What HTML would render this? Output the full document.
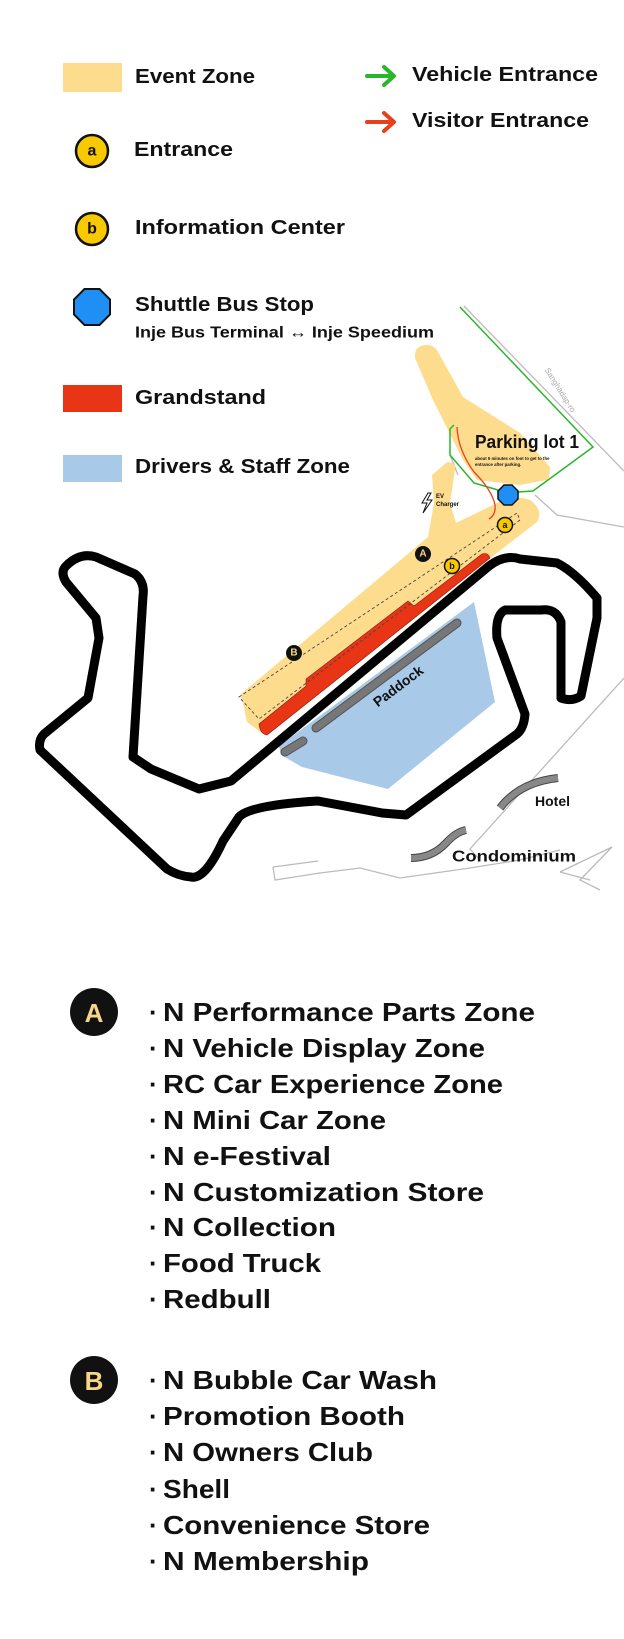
<!DOCTYPE html>
<html><head><meta charset="utf-8"><style>
html,body{margin:0;padding:0;background:#fff;}
svg{display:block;}
text{font-family:"Liberation Sans",sans-serif;font-weight:bold;fill:#111;}
</style></head><body>
<svg width="624" height="1639" viewBox="0 0 624 1639" xmlns="http://www.w3.org/2000/svg">
<!-- Legend -->
<rect x="63" y="63" width="59" height="29" fill="#fddc8e"/>
<text x="135" y="77" font-size="20" dominant-baseline="central" textLength="120" lengthAdjust="spacingAndGlyphs">Event Zone</text>
<g stroke="#2bb52b" stroke-width="4" fill="none" stroke-linecap="round" stroke-linejoin="round"><path d="M367 76H393M384 67L394 76L384 85"/></g>
<text x="412" y="75" font-size="20" dominant-baseline="central" textLength="186" lengthAdjust="spacingAndGlyphs">Vehicle Entrance</text>
<g stroke="#e8401c" stroke-width="4" fill="none" stroke-linecap="round" stroke-linejoin="round"><path d="M367 122H393M384 113L394 122L384 131"/></g>
<text x="412" y="121" font-size="20" dominant-baseline="central" textLength="177" lengthAdjust="spacingAndGlyphs">Visitor Entrance</text>
<circle cx="92" cy="151" r="16" fill="#f8c800" stroke="#111" stroke-width="2.5"/>
<text x="92" y="151" font-size="16" text-anchor="middle" dominant-baseline="central">a</text>
<text x="134" y="150" font-size="20" dominant-baseline="central" textLength="99" lengthAdjust="spacingAndGlyphs">Entrance</text>
<circle cx="92" cy="229" r="16" fill="#f8c800" stroke="#111" stroke-width="2.5"/>
<text x="92" y="229" font-size="16" text-anchor="middle" dominant-baseline="central">b</text>
<text x="135" y="228" font-size="20" dominant-baseline="central" textLength="210" lengthAdjust="spacingAndGlyphs">Information Center</text>
<polygon points="84.5,289 99.5,289 110,299.5 110,314.5 99.5,325 84.5,325 74,314.5 74,299.5" fill="#1f8ff5" stroke="#111" stroke-width="2"/>
<text x="135" y="305" font-size="20" dominant-baseline="central" textLength="179" lengthAdjust="spacingAndGlyphs">Shuttle Bus Stop</text>
<text x="135" y="333" font-size="16" dominant-baseline="central" textLength="299" lengthAdjust="spacingAndGlyphs">Inje Bus Terminal ↔ Inje Speedium</text>
<rect x="63" y="385" width="59" height="27" fill="#e83516"/>
<text x="135" y="398" font-size="20" dominant-baseline="central" textLength="131" lengthAdjust="spacingAndGlyphs">Grandstand</text>
<rect x="63" y="455" width="59" height="27" fill="#a9c9e8"/>
<text x="135" y="467" font-size="20" dominant-baseline="central" textLength="215" lengthAdjust="spacingAndGlyphs">Drivers &amp; Staff Zone</text>

<!-- roads (gray) -->
<g stroke="#bbb" stroke-width="1.3" fill="none">
<path d="M464 306L624 471"/>
<path d="M535 495L557 515L624 527"/>
<path d="M624 678L470 849L480 860"/>
<path d="M450 455L458 475"/>
<path d="M273 867L275 880L320 873L360 868L400 878L470 868L520 860L560 850"/>
<path d="M273 867L318 861"/>
<path d="M560 872L612 847L580 880L600 890M560 872L590 880"/>
</g>

<!-- parking yellow -->
<path d="M415 358Q414 346 425 345Q432 344 437 350L463 397L520 433L550 467Q550 478 547 480L520 485L477 480L463 460L433 400Z" fill="#fddc8e"/>
<!-- event zone band -->
<path d="M241 694L428 537L434 503L432 475L447 462Q456 462 455 470L450 503L456 523L497 503Q515 494 530 500Q544 510 537 522L489 559L263 734L247 722Z" fill="#fddc8e"/>

<!-- paddock -->
<path d="M279 746L474 602L495 702L388 789L302 767L281 755Z" fill="#a9c9e8"/>
<g stroke="#555" stroke-width="9" stroke-linecap="round"><path d="M316 728L457 623"/><path d="M285 752L303 741"/></g>
<g stroke="#777" stroke-width="7" stroke-linecap="round"><path d="M316 728L457 623"/><path d="M285 752L303 741"/></g>
<text x="398" y="686" font-size="14" text-anchor="middle" dominant-baseline="central" transform="rotate(-37 398 686)">Paddock</text>

<!-- grandstand -->
<path d="M259 724L306 686L306 679L408 601L414 606L482 554Q488 552 490 558L267 735Q260 734 259 724Z" fill="#e83516" stroke="#8a1a08" stroke-width="0.6"/>

<!-- dashed outline -->
<path d="M239 697L517 513L520 520L259 719Z" fill="none" stroke="#444" stroke-width="0.9" stroke-dasharray="3,2.5"/>

<!-- track -->
<path d="M66 566Q80 552 96 557L135 574Q145 582 143 596L133 757L151 769L199 789L231 781L489 566Q505 554 520 559L557 563Q575 572 597 598L597 618L581 696Q572 702 561 698L561 622Q556 608 541 610L505 610Q495 615 497 638L525 714Q524 728 517 734L406 815L382 813L318 801Q250 805 239 817L223 841Q205 880 191 877Q178 876 167 869L40 750Q38 740 44 734L88 698L99 638L96 618L66 582Q60 572 66 566Z" fill="none" stroke="#000" stroke-width="9" stroke-linejoin="round"/>

<!-- green vehicle route -->
<path d="M460 307L593 447L533 491L518 492M498 490L474 483L450 455L450 429L454 425" fill="none" stroke="#2bb52b" stroke-width="1.5"/>
<!-- red visitor route -->
<path d="M457 427Q458 450 474 472Q492 490 495 505Q496 515 489 519" fill="none" stroke="#e8401c" stroke-width="1.3"/>

<!-- bus stop -->
<polygon points="504,485 512,485 518,491 518,499 512,505 504,505 498,499 498,491" fill="#1f8ff5" stroke="#111" stroke-width="1.5"/>

<!-- markers -->
<circle cx="505" cy="525" r="7.5" fill="#f8c800" stroke="#111" stroke-width="1.5"/>
<text x="505" y="525" font-size="9" text-anchor="middle" dominant-baseline="central">a</text>
<circle cx="452" cy="566" r="7.5" fill="#f8c800" stroke="#111" stroke-width="1.5"/>
<text x="452" y="566" font-size="9" text-anchor="middle" dominant-baseline="central">b</text>
<circle cx="423" cy="554" r="8" fill="#111"/>
<text x="423" y="554" font-size="10" text-anchor="middle" dominant-baseline="central" style="fill:#f7d68a">A</text>
<circle cx="294" cy="653" r="8" fill="#111"/>
<text x="294" y="653" font-size="10" text-anchor="middle" dominant-baseline="central" style="fill:#f7d68a">B</text>

<!-- EV charger -->
<path d="M428 493L422 503L427 503L423 513L432 500L427 500L431 493Z" fill="none" stroke="#111" stroke-width="1"/>
<text x="436" y="497" font-size="6" dominant-baseline="central">EV</text>
<text x="436" y="505" font-size="6" dominant-baseline="central">Charger</text>

<!-- parking labels -->
<text x="475" y="448" font-size="18" textLength="104" lengthAdjust="spacingAndGlyphs">Parking lot 1</text>
<text x="475" y="460" font-size="4.3">about 5 minutes on foot to get to the</text>
<text x="475" y="466" font-size="4.3">entrance after parking.</text>
<text x="560" y="390" font-size="8" text-anchor="middle" dominant-baseline="central" transform="rotate(58 560 390)" style="fill:#aaa;font-weight:normal">Sanghadap-ro</text>

<!-- hotel / condo -->
<path d="M500 808Q520 782 558 778" fill="none" stroke="#444" stroke-width="8"/>
<path d="M500 808Q520 782 558 778" fill="none" stroke="#888" stroke-width="6"/>
<text x="535" y="801" font-size="14" dominant-baseline="central">Hotel</text>
<path d="M411 858Q432 858 446 843Q456 832 466 830" fill="none" stroke="#444" stroke-width="8"/>
<path d="M411 858Q432 858 446 843Q456 832 466 830" fill="none" stroke="#888" stroke-width="6"/>
<text x="452" y="857" font-size="16" dominant-baseline="central" textLength="124" lengthAdjust="spacingAndGlyphs">Condominium</text>

<!-- Lists -->
<circle cx="94" cy="1012" r="24" fill="#111"/>
<text x="94" y="1013" font-size="26" text-anchor="middle" dominant-baseline="central" style="fill:#f7d68a">A</text>
<g font-size="26">
<text x="149" y="1012" dominant-baseline="central">·</text><text x="163" y="1012" dominant-baseline="central" textLength="372" lengthAdjust="spacingAndGlyphs">N Performance Parts Zone</text>
<text x="149" y="1048" dominant-baseline="central">·</text><text x="163" y="1048" dominant-baseline="central" textLength="322" lengthAdjust="spacingAndGlyphs">N Vehicle Display Zone</text>
<text x="149" y="1084" dominant-baseline="central">·</text><text x="163" y="1084" dominant-baseline="central" textLength="340" lengthAdjust="spacingAndGlyphs">RC Car Experience Zone</text>
<text x="149" y="1120" dominant-baseline="central">·</text><text x="163" y="1120" dominant-baseline="central" textLength="223" lengthAdjust="spacingAndGlyphs">N Mini Car Zone</text>
<text x="149" y="1156" dominant-baseline="central">·</text><text x="163" y="1156" dominant-baseline="central" textLength="168" lengthAdjust="spacingAndGlyphs">N e-Festival</text>
<text x="149" y="1192" dominant-baseline="central">·</text><text x="163" y="1192" dominant-baseline="central" textLength="321" lengthAdjust="spacingAndGlyphs">N Customization Store</text>
<text x="149" y="1227" dominant-baseline="central">·</text><text x="163" y="1227" dominant-baseline="central" textLength="173" lengthAdjust="spacingAndGlyphs">N Collection</text>
<text x="149" y="1263" dominant-baseline="central">·</text><text x="163" y="1263" dominant-baseline="central" textLength="158" lengthAdjust="spacingAndGlyphs">Food Truck</text>
<text x="149" y="1299" dominant-baseline="central">·</text><text x="163" y="1299" dominant-baseline="central" textLength="108" lengthAdjust="spacingAndGlyphs">Redbull</text>
</g>
<circle cx="94" cy="1380" r="24" fill="#111"/>
<text x="94" y="1381" font-size="26" text-anchor="middle" dominant-baseline="central" style="fill:#f7d68a">B</text>
<g font-size="26">
<text x="149" y="1380" dominant-baseline="central">·</text><text x="163" y="1380" dominant-baseline="central" textLength="274" lengthAdjust="spacingAndGlyphs">N Bubble Car Wash</text>
<text x="149" y="1416" dominant-baseline="central">·</text><text x="163" y="1416" dominant-baseline="central" textLength="242" lengthAdjust="spacingAndGlyphs">Promotion Booth</text>
<text x="149" y="1452" dominant-baseline="central">·</text><text x="163" y="1452" dominant-baseline="central" textLength="210" lengthAdjust="spacingAndGlyphs">N Owners Club</text>
<text x="149" y="1489" dominant-baseline="central">·</text><text x="163" y="1489" dominant-baseline="central" textLength="67" lengthAdjust="spacingAndGlyphs">Shell</text>
<text x="149" y="1525" dominant-baseline="central">·</text><text x="163" y="1525" dominant-baseline="central" textLength="267" lengthAdjust="spacingAndGlyphs">Convenience Store</text>
<text x="149" y="1561" dominant-baseline="central">·</text><text x="163" y="1561" dominant-baseline="central" textLength="206" lengthAdjust="spacingAndGlyphs">N Membership</text>
</g>
</svg>
</body></html>
